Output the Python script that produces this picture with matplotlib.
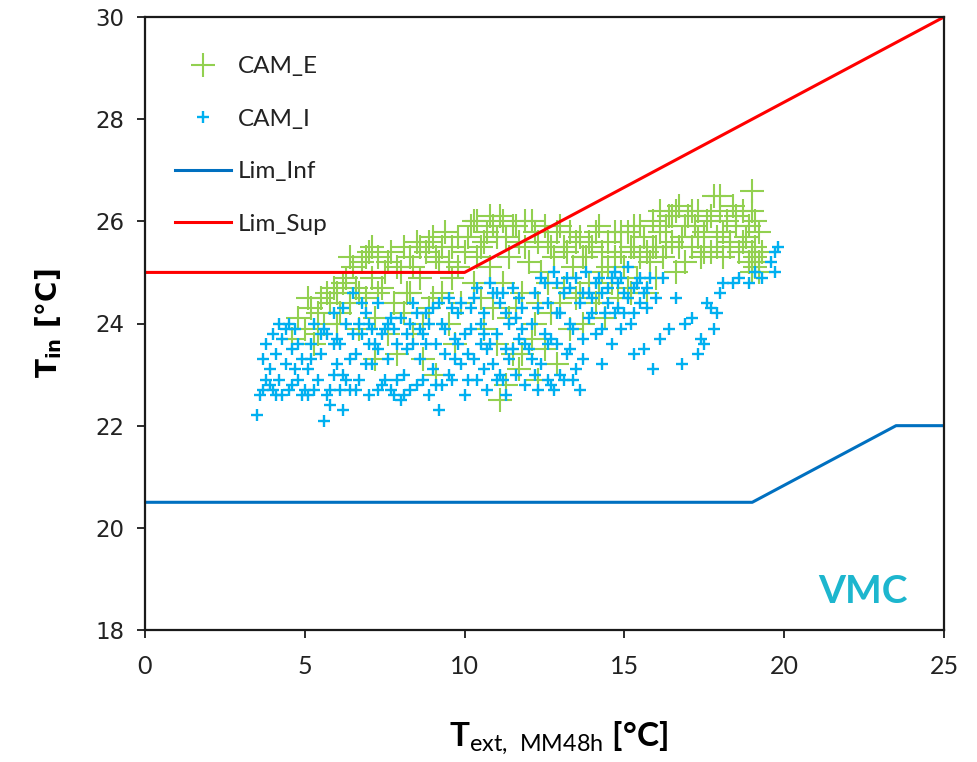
import numpy as np
import matplotlib
matplotlib.use('Agg')
import matplotlib.pyplot as plt

# limit curves
lim_inf_x = [0, 19, 23.5, 25]
lim_inf_y = [20.5, 20.5, 22, 22]
lim_sup_x = [0, 10, 25]
lim_sup_y = [25, 25, 30]

# CAM_I
cam_i_x = [3.5, 3.6, 3.7, 3.8, 3.9, 4.0, 4.1, 4.2, 4.3, 4.4, 4.5, 4.6, 4.7, 4.8, 4.9, 3.8, 4.0, 4.3, 4.5, 4.8,
           5.0, 5.1, 5.2, 5.3, 5.4, 5.5, 5.6, 5.7, 5.8, 5.9, 6.0, 6.1, 6.2, 6.3, 6.4, 6.5, 6.6, 6.7, 6.8, 6.9,
           7.0, 7.1, 7.2, 7.3, 7.4, 7.5, 7.6, 7.7, 7.8, 7.9, 5.5, 6.0, 6.4, 7.0, 7.5, 5.8, 6.2, 7.3,
           8.0, 8.1, 8.2, 8.3, 8.4, 8.5, 8.6, 8.7, 8.8, 8.9, 9.0, 9.1, 9.2, 9.3, 9.4, 9.5, 9.6, 9.7, 9.8, 9.9,
           8.2, 8.7, 9.0, 9.5, 9.8, 8.4, 9.3,
           10.0, 10.1, 10.2, 10.3, 10.4, 10.5, 10.6, 10.7, 10.8, 10.9, 11.0, 11.1, 11.2, 11.3, 11.4, 11.5, 11.6,
           11.7, 11.8, 11.9, 10.2, 10.6, 11.0, 11.3, 11.6, 10.8, 11.4,
           12.0, 12.1, 12.2, 12.3, 12.4, 12.5, 12.6, 12.7, 12.8, 12.9, 13.0, 13.1, 13.2, 13.3, 13.4, 13.5, 13.6,
           13.7, 13.8, 13.9, 12.2, 12.6, 13.0, 13.4, 13.7, 12.9, 13.3,
           14.0, 14.1, 14.2, 14.3, 14.4, 14.5, 14.6, 14.7, 14.8, 14.9, 15.0, 15.1, 15.2, 15.3, 15.4, 15.5, 15.6,
           15.8, 15.9, 16.0, 14.3, 14.8, 15.3, 15.7, 16.1,
           16.2, 16.4, 16.6, 16.8, 16.9, 17.1, 17.3, 17.5, 17.7, 17.8, 17.9, 17.6, 17.4, 18.1, 18.0,
           18.4, 18.6, 18.9, 19.1, 19.3, 19.6, 19.7, 19.8, 19.7,
           4.2, 4.4, 4.6, 4.9, 5.1, 5.3, 5.6, 5.9, 4.7, 5.2, 5.7, 3.9, 4.1, 3.7,
           6.1, 6.3, 6.5, 6.7, 6.9, 7.1, 7.3, 7.6, 7.8, 8.0, 8.3, 8.5, 8.8, 6.6, 7.0, 7.4, 7.9, 8.6, 6.8, 7.7,
           8.1, 6.2, 5.9, 8.9,
           9.1, 9.4, 9.6, 9.9, 10.1, 10.3, 10.5, 10.7, 10.9, 11.1, 11.3, 11.5, 11.7, 11.9, 9.2, 10.0, 10.4, 11.0,
           11.8, 9.7, 10.6, 11.2,
           12.1, 12.3, 12.5, 12.7, 12.9, 13.1, 13.3, 13.5, 13.7, 13.9, 14.1, 14.3, 14.5, 14.7, 14.9, 15.1, 15.3,
           15.5, 15.7, 12.4, 13.2, 14.0, 14.6, 15.0, 15.6, 12.8, 13.6, 12.6]
cam_i_y = [22.2, 22.6, 22.7, 22.9, 23.1, 22.7, 23.4, 22.9, 23.7, 23.2, 22.7, 23.5, 23.9, 22.9, 23.3, 23.6, 23.8, 22.6, 24.0, 23.6,
           22.7, 23.1, 23.6, 24.0, 22.9, 23.4, 22.1, 23.8, 22.7, 24.2, 23.2, 23.6, 22.3, 24.0, 22.7, 24.6, 23.4, 22.9, 23.8, 24.2,
           22.6, 23.2, 23.6, 24.4, 22.8, 23.9, 23.3, 24.1, 22.6, 23.6, 23.8, 23.7, 23.3, 24.0, 22.9, 22.4, 23.0, 23.5,
           22.5, 23.0, 23.5, 24.0, 24.4, 22.8, 23.3, 23.8, 24.2, 22.6, 23.1, 23.6, 22.3, 24.0, 23.4, 24.5, 22.9, 23.7, 24.2, 23.2,
           23.8, 22.9, 24.3, 23.0, 23.6, 23.6, 22.8,
           22.6, 23.4, 23.9, 24.5, 22.9, 23.6, 24.2, 22.7, 24.8, 23.2, 23.8, 24.4, 22.9, 23.5, 24.0, 24.7, 23.0,
           23.7, 24.3, 22.8, 24.3, 23.1, 24.6, 22.6, 24.1, 23.6, 23.3,
           23.5, 24.0, 24.6, 22.7, 23.2, 23.8, 24.4, 22.8, 25.0, 23.6, 24.2, 22.9, 23.4, 24.7, 23.9, 23.1, 24.4,
           23.7, 25.0, 24.1, 23.0, 23.6, 23.0, 22.9, 24.6, 24.8, 23.5,
           24.5, 23.8, 24.9, 23.2, 24.2, 24.7, 23.6, 25.0, 24.3, 23.9, 24.6, 25.1, 24.0, 23.4, 24.8, 24.4, 23.5,
           24.9, 23.1, 24.5, 24.6, 24.8, 24.2, 24.7, 23.7,
           24.9, 23.9, 24.5, 23.2, 24.0, 24.1, 23.4, 23.6, 24.3, 23.9, 24.2, 24.4, 23.7, 24.8, 24.6,
           24.8, 24.9, 24.8, 25.0, 24.9, 25.2, 25.4, 25.5, 25.0,
           24.0, 23.9, 22.8, 22.6, 22.6, 22.7, 23.9, 23.0, 23.1, 23.3, 22.6, 22.8, 22.6, 23.3,
           22.7, 22.9, 23.8, 24.0, 23.2, 23.9, 22.7, 24.0, 23.9, 24.1, 22.7, 24.2, 23.6, 22.7, 23.6, 23.8, 22.9, 23.9, 24.4, 22.7,
           22.6, 24.3, 23.6, 24.0,
           22.8, 23.9, 24.3, 24.4, 22.9, 23.3, 24.0, 23.5, 24.6, 23.0, 24.2, 23.5, 24.5, 23.6, 24.4, 23.8, 24.7, 22.9,
           23.9, 23.3, 23.8, 24.6,
           23.3, 24.3, 24.8, 23.7, 24.2, 24.6, 24.0, 24.9, 23.3, 24.6, 24.8, 23.9, 24.4, 24.2, 24.9, 24.5, 24.7,
           24.9, 24.3, 24.9, 24.9, 24.2, 24.9, 24.2, 24.6, 22.7, 22.7, 22.9]

# CAM_E
cam_e_x = [4.6, 4.8, 5.0, 5.2, 5.3, 5.5, 5.6, 5.8, 5.9, 5.4,
           6.0, 6.1, 6.3, 6.4, 6.5, 6.6, 6.8, 6.9, 7.0, 7.1, 7.2, 7.3, 7.4, 7.5, 7.6, 7.7, 7.8, 7.9, 6.7, 7.2,
           8.0, 8.1, 8.2, 8.3, 8.4, 8.5, 8.6, 8.7, 8.8, 8.9, 9.0, 9.1, 9.2, 9.3, 9.4, 9.5, 9.6, 9.7, 9.8, 9.9,
           10.0, 10.2, 10.3, 10.4, 10.5, 10.6, 10.7, 10.8, 10.9, 11.0, 11.1, 11.2, 11.3, 11.4, 11.5, 11.6, 11.7,
           11.8, 11.9, 11.0, 11.4, 10.5,
           12.0, 12.1, 12.2, 12.3, 12.4, 12.5, 12.6, 12.7, 12.8, 12.9, 13.0, 13.1, 13.2, 13.3, 13.4, 13.5, 13.6,
           13.7, 13.8, 13.9, 12.3,
           14.0, 14.1, 14.2, 14.3, 14.4, 14.5, 14.6, 14.7, 14.8, 14.9, 15.0, 15.1, 15.2, 15.3, 15.4, 15.5, 15.6,
           15.7, 15.8, 15.9, 16.0,
           16.1, 16.2, 16.3, 16.4, 16.5, 16.6, 16.7, 16.8, 16.9, 17.0, 17.1, 17.2, 17.3, 17.4, 17.5, 17.6, 17.7,
           17.8, 17.9, 18.0,
           18.1, 18.2, 18.3, 18.4, 18.5, 18.6, 18.7, 18.8, 18.9, 19.0, 19.0, 19.1, 19.1, 19.2, 19.2, 19.3, 19.0, 19.1,
           5.1, 5.7, 6.2, 6.4, 6.9, 7.3, 7.6, 7.9, 6.7, 7.1, 5.4, 6.0,
           8.1, 8.4, 8.6, 8.9, 9.1, 9.3, 9.5, 9.8, 9.0, 8.7, 9.6, 8.3,
           10.1, 10.3, 10.6, 10.9, 11.1, 11.3, 11.5, 11.7, 11.9, 10.8, 11.2, 11.6, 10.4, 11.8,
           12.1, 12.3, 12.5, 12.7, 12.9, 13.1, 13.3, 13.5, 13.7, 13.9, 12.6, 13.0, 13.6, 12.2,
           14.1, 14.3, 14.5, 14.7, 14.9, 15.1, 15.3, 15.5, 15.7, 15.9, 16.1, 16.3, 16.5, 16.7, 16.9, 17.1, 17.3,
           17.5, 17.7, 17.9, 18.1, 18.3, 18.5, 18.7, 18.9, 19.0, 19.1, 19.2, 16.0, 15.2, 14.2, 18.0, 16.6]
cam_e_y = [23.7, 24.1, 23.9, 24.3, 23.6, 24.5, 24.0, 24.4, 24.7, 24.2,
           24.6, 24.2, 24.9, 24.4, 25.1, 24.7, 25.2, 24.5, 25.4, 24.9, 24.1, 25.3, 24.7, 25.0, 23.8, 25.4, 24.4, 23.4, 23.9, 23.3,
           25.0, 25.5, 24.6, 25.3, 23.8, 25.6, 24.9, 23.3, 25.4, 24.3, 25.7, 23.0, 25.2, 24.6, 25.8, 24.0, 25.5, 23.6, 25.1, 24.4,
           25.4, 25.9, 24.8, 26.0, 25.5, 23.9, 25.8, 26.1, 24.3, 25.7, 22.5, 26.0, 22.8, 25.3, 23.4, 25.9, 23.1,
           24.6, 25.5, 23.6, 24.1, 24.5,
           25.2, 23.7, 25.8, 24.4, 25.0, 23.5, 25.6, 24.2, 25.3, 23.2, 25.9, 24.7, 25.4, 23.9, 25.1, 24.5, 25.7,
           24.0, 25.3, 24.8, 22.9,
           25.5, 24.4, 25.9, 25.0, 24.1, 25.6, 24.8, 25.3, 24.5, 25.8, 25.1, 24.7, 25.5, 25.9, 24.9, 25.3, 25.7,
           24.6, 25.2, 26.0, 25.5,
           26.2, 25.3, 25.9, 26.1, 25.6, 25.0, 26.3, 25.7, 25.2, 26.1, 25.5, 25.9, 26.2, 25.3, 25.8, 26.0, 25.4,
           26.5, 25.7, 26.2,
           25.3, 26.0, 25.6, 26.3, 25.9, 25.4, 26.2, 25.7, 25.2, 26.6, 25.0, 26.0, 25.5, 25.2, 25.8, 25.4, 26.2, 25.1,
           24.5, 24.6, 24.8, 25.3, 25.3, 24.6, 25.2, 25.1, 24.6, 25.5, 23.8, 24.0,
           24.2, 25.1, 25.5, 25.6, 25.3, 25.5, 25.2, 25.7, 24.5, 24.0, 24.9, 24.6,
           25.7, 26.0, 25.6, 25.9, 26.1, 25.7, 25.9, 25.6, 26.0, 25.1, 24.8, 24.3, 25.3, 23.4,
           26.0, 25.6, 25.9, 25.5, 25.8, 25.5, 25.8, 25.6, 25.3, 25.6, 24.8, 24.4, 24.6, 24.0,
           25.8, 25.4, 25.1, 25.8, 25.4, 25.8, 25.5, 25.9, 25.4, 25.5, 25.8, 25.5, 26.1, 25.5, 25.9, 26.2, 25.7,
           25.4, 26.1, 25.5, 25.8, 25.5, 26.1, 25.6, 25.9, 25.4, 25.3, 25.0, 24.9, 24.6, 24.6, 26.5, 26.2]

c_green = '#92D050'
c_cyan = '#00B0F0'
c_inf = '#0070C0'
c_sup = '#FF0000'

plt.rcParams['mathtext.fontset'] = 'custom'
plt.rcParams['mathtext.rm'] = 'Lato'
plt.rcParams['mathtext.bf'] = 'DejaVu Sans:bold'

fig = plt.figure(figsize=(9.78, 7.62), dpi=100)
ax = fig.add_axes([145 / 978, 1 - 630 / 762, 799 / 978, 613 / 762])

ax.plot(cam_e_x, cam_e_y, '+', color=c_green, ms=17, mew=1.5, label='CAM_E')
ax.plot(cam_i_x, cam_i_y, '+', color=c_cyan, ms=8, mew=1.7, label='CAM_I')
ax.plot(lim_inf_x, lim_inf_y, color=c_inf, lw=2.2, label='Lim_Inf')
ax.plot(lim_sup_x, lim_sup_y, color=c_sup, lw=2.2, label='Lim_Sup')

ax.set_xlim(0, 25)
ax.set_ylim(18, 30)
ax.set_xticks([0, 5, 10, 15, 20, 25])
ax.set_yticks([18, 20, 22, 24, 26, 28, 30])
for s in ax.spines.values():
    s.set_linewidth(1.6)
    s.set_color('#1a1a1a')
ax.tick_params(axis='both', direction='out', length=6, width=1.3, color='#1a1a1a')
ax.tick_params(axis='x', pad=12)
ax.tick_params(axis='y', pad=9)
for lab in ax.get_xticklabels():
    lab.set_fontfamily('Lato')
    lab.set_fontsize(18)
    lab.set_color('#222222')
for lab in ax.get_yticklabels():
    lab.set_fontfamily('DejaVu Sans')
    lab.set_fontsize(16.5)
    lab.set_color('#222222')

ax.set_xlabel(r'T$_{\mathrm{ext,\ MM48h}}$ [°C]', fontsize=24, fontweight='bold',
              family='Lato', labelpad=22)
ax.xaxis.set_label_coords(0.518, -0.146)
ax.set_ylabel(r'T$_{\mathbf{in}}$ [°C]', fontsize=20, fontweight='bold',
              family='DejaVu Sans', labelpad=22)

leg = ax.legend(loc='upper left', bbox_to_anchor=(0.025, 0.952), frameon=False,
                prop={'family': 'Lato', 'size': 17.5}, handlelength=2.3,
                handletextpad=0.3, labelspacing=1.3, borderaxespad=0)
for t in leg.get_texts():
    t.set_color('#222222')

ax.text(0.955, 0.044, 'VMC', transform=ax.transAxes, ha='right', va='baseline',
        fontsize=28, fontweight='bold', family='Lato', color='#1DB6CE')

fig.savefig('out.png', dpi=100)
